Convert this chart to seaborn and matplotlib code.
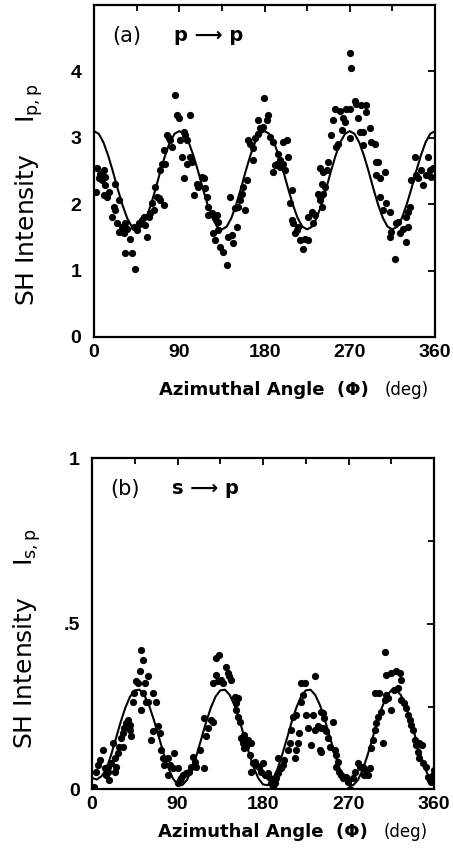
from matplotlib import pyplot as plt
import pandas as pd
import seaborn as sns

# ---- data ----
# panel (a): p -> p
angle_a = [1.6, 3.4, 6.8, 5.1, 10.3, 12.1, 8.6, 12.1, 10.3, 13.9, 15.6, 22.6, 20.8, 22.6, 19.1,
           26.1, 24.4, 26.1, 29.7, 31.4, 34.9, 33.2, 38.4, 33.2, 40.2, 43.7, 41.9, 45.5, 47.2,
           50.7, 52.4, 56.0, 54.2, 57.7, 59.5, 62.9, 61.3, 64.7, 66.5, 68.2, 70.0, 73.5, 70.0,
           71.8, 75.3, 73.5, 78.7, 77.0, 80.5, 82.3, 85.8, 87.6, 89.3, 91.0, 94.5, 96.3, 101.6,
           98.1, 92.8, 94.5, 98.1, 101.6, 103.4, 105.1, 108.6, 110.3, 113.9, 115.6, 117.4, 119.2,
           120.8, 120.8, 124.4, 127.9, 129.7, 131.4, 131.4, 126.1, 127.9, 133.2, 136.6, 140.2,
           141.9, 145.5, 147.2, 150.7, 143.7, 149.0, 152.4, 154.2, 156.0, 157.7, 159.5, 161.3,
           168.2, 164.7, 163.0, 168.2, 170.0, 173.5, 175.3, 178.7, 173.5, 182.3, 184.0, 179.8,
           185.8, 189.3, 199.8, 203.4, 194.5, 196.3, 191.0, 192.8, 189.3, 196.3, 199.8, 201.6,
           205.0, 208.6, 206.8, 208.6, 210.3, 212.1, 213.9, 215.6, 217.4, 220.8, 222.6, 226.1,
           226.1, 229.7, 231.4, 233.2, 236.6, 238.4, 240.2, 241.9, 238.4, 245.5, 247.2, 240.2,
           243.7, 241.9, 238.4, 250.7, 252.4, 254.2, 256.0, 257.7, 259.5, 261.3, 263.0, 264.7,
           266.5, 270.0, 270.0, 270.0, 271.8, 275.3, 277.0, 278.7, 280.5, 284.0, 282.3, 287.6,
           287.6, 291.0, 284.0, 292.8, 296.3, 298.1, 299.8, 298.1, 301.6, 306.8, 301.6, 305.0,
           308.6, 312.1, 312.1, 313.9, 317.4, 319.2, 320.8, 322.6, 326.1, 329.0, 331.4, 329.7,
           333.2, 331.4, 334.9, 338.4, 340.2, 341.9, 345.5, 347.2, 350.7, 352.4, 354.2, 356.0,
           357.7]
inten_a = [2.18, 2.54, 2.46, 2.39, 2.51, 2.41, 2.36, 2.29, 2.14, 2.11, 2.18, 2.31, 1.96, 1.91, 1.81,
           2.06, 1.71, 1.58, 1.66, 1.56, 1.63, 1.71, 1.48, 1.27, 1.27, 1.03, 1.66, 1.61, 1.71,
           1.76, 1.81, 1.51, 1.68, 1.81, 1.86, 1.91, 2.01, 2.26, 2.11, 2.09, 2.06, 1.98, 2.51,
           2.61, 2.61, 2.81, 2.99, 3.04, 2.96, 2.86, 3.64, 3.34, 3.29, 2.96, 3.09, 3.04, 3.34,
           2.96, 2.71, 2.40, 2.60, 2.71, 2.64, 2.14, 2.31, 2.26, 2.41, 2.39, 2.24, 2.11,
           1.96, 1.83, 1.86, 1.81, 1.83, 1.73, 1.61, 1.56, 1.46, 1.36, 1.28, 1.08,
           1.51, 1.53, 1.41, 1.66, 2.11, 1.94, 1.96, 2.06, 2.16, 2.26, 1.91, 2.36,
           2.66, 2.91, 2.96, 2.84, 2.99, 3.06, 3.14, 3.16, 3.26, 3.26, 3.34, 3.60,
           3.01, 2.94, 2.94, 2.96, 2.76, 2.66, 2.59, 2.61, 2.49, 2.56, 2.61, 2.51,
           2.71, 2.21, 2.01, 1.76, 1.71, 1.56, 1.61, 1.66, 1.46, 1.33, 1.48, 1.46,
           1.81, 1.88, 1.71, 1.83, 2.16, 2.11, 1.96, 2.49, 2.54, 2.51, 2.64, 2.31,
           2.26, 2.16, 2.06, 3.04, 3.26, 3.44, 2.86, 2.91, 3.41, 3.11, 3.29, 3.24,
           3.44, 3.44, 2.99, 4.27, 4.05, 3.56, 3.51, 3.29, 3.09, 3.09, 3.49, 3.49,
           3.39, 3.14, 2.89, 2.94, 2.91, 2.64, 2.64, 2.44, 2.39, 2.49, 2.11, 1.91,
           2.01, 1.88, 1.51, 1.58, 1.17, 1.71, 1.73, 1.56, 1.63, 1.43, 1.66, 1.81,
           1.96, 1.88, 2.36, 2.71, 2.44, 2.39, 2.51, 2.29, 2.44, 2.71, 2.51, 2.41,
           2.54]

# panel (b): s -> p
angle_b = [1.6, 2.6, 4.4, 6.1, 7.9, 11.4, 13.2, 14.9, 16.6, 18.4, 16.6, 20.2, 21.9, 23.7, 23.7,
           25.5, 27.2, 28.9, 30.7, 32.4, 32.4, 34.2, 36.0, 37.7, 39.5, 41.3, 39.5, 42.9, 44.7,
           46.5, 48.2, 50.0, 51.8, 53.5, 55.3, 58.7, 51.8, 53.5, 57.0, 58.7, 64.0, 67.6, 62.3,
           64.0, 69.3, 71.1, 72.8, 74.5, 76.3, 79.8, 81.6, 86.8, 85.1, 90.3, 79.8, 92.1, 90.3,
           93.9, 95.6, 99.2, 102.6, 104.4, 106.1, 107.9, 109.7, 113.2, 118.4, 120.2,
           121.9, 125.5, 127.2, 118.4, 130.7, 134.2, 130.7, 127.2, 132.4, 136.0, 137.6, 141.2,
           142.9, 144.7, 146.5, 150.0, 151.8, 153.5, 151.8, 153.5, 155.3, 157.1, 160.5, 158.7,
           160.5, 162.3, 164.0, 167.6, 165.8, 169.3, 171.1, 167.6, 172.8, 176.3, 178.1, 179.8,
           181.6, 185.1, 186.8, 188.6, 190.3, 192.1, 193.9, 195.6, 195.6, 199.2, 200.8, 202.6,
           206.1, 207.9, 209.7, 211.4, 214.9, 213.2, 216.6, 218.4, 214.9, 220.2, 220.2, 223.7,
           221.9, 225.5, 227.2, 230.7, 234.2, 232.4, 234.2, 237.7, 241.3, 239.5, 242.9,
           241.3, 244.7, 242.9, 246.5, 248.2, 250.0, 253.5, 255.3, 241.3, 257.0, 258.7, 257.0,
           260.5, 262.3, 264.0, 267.6, 269.3, 271.1, 274.5, 276.3, 279.8, 281.6, 285.1, 286.8,
           288.6, 290.3, 292.1, 293.9, 295.6, 297.4, 299.2, 300.8, 297.4, 302.6, 304.4, 306.1,
           307.9, 309.7, 311.4, 307.9, 309.7, 315.0, 315.0, 318.4, 320.2, 323.7, 325.5, 321.9,
           325.5, 328.9, 330.7, 332.4, 334.2, 336.0, 337.7, 339.5, 341.2, 344.7, 347.7, 343.0,
           344.7, 348.2, 351.8, 353.5, 355.3, 357.0, 358.7, 359.5]
inten_b = [0.004, 0.008, 0.054, 0.074, 0.089, 0.119, 0.064, 0.044, 0.054, 0.029, 0.069, 0.079, 0.140,
           0.094, 0.054, 0.069, 0.109, 0.129, 0.155, 0.170, 0.129, 0.185, 0.200, 0.210, 0.180,
           0.160, 0.195, 0.265, 0.291, 0.326, 0.321, 0.356, 0.421, 0.391, 0.321, 0.341, 0.240,
           0.291, 0.265, 0.265, 0.291, 0.265, 0.150, 0.175, 0.190, 0.170, 0.119, 0.094, 0.074,
           0.094, 0.074, 0.109, 0.064, 0.064, 0.044, 0.029, 0.019, 0.034, 0.044, 0.049, 0.054,
           0.069, 0.099, 0.084, 0.069, 0.119, 0.215, 0.160,
           0.185, 0.210, 0.205, 0.064, 0.396, 0.406, 0.346, 0.321, 0.326, 0.331, 0.321, 0.371,
           0.351, 0.341, 0.331, 0.280, 0.260, 0.276, 0.240, 0.220, 0.205, 0.155, 0.165, 0.140,
           0.124, 0.129, 0.150, 0.140, 0.104, 0.079, 0.084, 0.054, 0.074, 0.069, 0.054, 0.079,
           0.044, 0.049, 0.039, 0.019, 0.008, 0.019, 0.034, 0.049, 0.094, 0.064, 0.074, 0.089,
           0.119, 0.140, 0.180, 0.220, 0.225, 0.094, 0.140, 0.170, 0.119, 0.265, 0.321, 0.321,
           0.285, 0.225, 0.185, 0.134, 0.341, 0.225, 0.180, 0.190, 0.185, 0.119, 0.230,
           0.235, 0.215, 0.185, 0.175, 0.155, 0.129, 0.205, 0.119, 0.114, 0.104, 0.084, 0.069,
           0.054, 0.044, 0.034, 0.039, 0.024, 0.000, 0.034, 0.054, 0.079, 0.069, 0.069, 0.044,
           0.054, 0.044, 0.064, 0.124, 0.150, 0.180, 0.200, 0.220, 0.291, 0.291, 0.235, 0.140,
           0.270, 0.285, 0.276, 0.416, 0.346, 0.351, 0.240, 0.301, 0.356, 0.351, 0.331, 0.306,
           0.270, 0.260, 0.245, 0.225, 0.210, 0.195, 0.180, 0.150, 0.134, 0.140, 0.134, 0.114,
           0.094, 0.079, 0.069, 0.039, 0.029, 0.024, 0.044, 0.059]

# fitted curves, read every 5 deg
fit_angle = list(range(0, 365, 5))
fit_a = [3.10, 3.06, 2.93, 2.73, 2.49, 2.23, 1.99, 1.79, 1.66, 1.62, 1.66, 1.79, 1.99, 2.23, 2.49, 2.73, 2.93, 3.06,
         3.10, 3.06, 2.93, 2.73, 2.49, 2.23, 1.99, 1.79, 1.66, 1.62, 1.66, 1.79, 1.99, 2.23, 2.49, 2.73, 2.93, 3.06,
         3.10, 3.06, 2.93, 2.73, 2.49, 2.23, 1.99, 1.79, 1.66, 1.62, 1.66, 1.79, 1.99, 2.23, 2.49, 2.73, 2.93, 3.06,
         3.10, 3.06, 2.93, 2.73, 2.49, 2.23, 1.99, 1.79, 1.66, 1.62, 1.66, 1.79, 1.99, 2.23, 2.49, 2.73, 2.93, 3.06,
         3.10]
fit_b = [0.035, 0.030, 0.040, 0.060, 0.103, 0.152, 0.202, 0.246, 0.280, 0.299, 0.301, 0.285, 0.254, 0.211, 0.162, 0.112, 0.068, 0.034,
         0.015, 0.013, 0.029, 0.060, 0.103, 0.152, 0.202, 0.246, 0.280, 0.299, 0.301, 0.285, 0.254, 0.211, 0.162, 0.112, 0.068, 0.034,
         0.015, 0.013, 0.029, 0.060, 0.103, 0.152, 0.202, 0.246, 0.280, 0.299, 0.301, 0.285, 0.254, 0.211, 0.162, 0.112, 0.068, 0.034,
         0.015, 0.013, 0.029, 0.060, 0.103, 0.152, 0.202, 0.246, 0.280, 0.299, 0.301, 0.285, 0.254, 0.211, 0.162, 0.112, 0.068, 0.034,
         0.035]

df_a = pd.DataFrame({"angle": angle_a, "inten": inten_a})
df_b = pd.DataFrame({"angle": angle_b, "inten": inten_b})
df_fit = pd.DataFrame({"angle": fit_angle, "fit_a": fit_a, "fit_b": fit_b})

sns.set_style("white")
plt.rcParams["font.family"] = ["Liberation Sans", "DejaVu Sans"]
plt.rcParams["text.color"] = "black"
plt.rcParams["axes.labelcolor"] = "black"
plt.rcParams["xtick.color"] = "black"
plt.rcParams["ytick.color"] = "black"

fig = plt.figure(figsize=(4.53, 8.52), dpi=100)
ax_a = fig.add_axes([0.2075, 0.6045, 0.7528, 0.3897])
ax_b = fig.add_axes([0.2031, 0.0734, 0.755, 0.389])

panels = [
    (ax_a, df_a, "fit_a", (0, 5), [0, 1, 2, 3, 4], ["0", "1", "2", "3", "4"], [],
     "(a)", "p \u27f6 p", r"SH Intensity    $\mathregular{I_{p,p}}$", 0.43, -0.16),
    (ax_b, df_b, "fit_b", (0, 1), [0, 0.5, 1], ["0", ".5", "1"], [0.25, 0.75],
     "(b)", "s \u27f6 p", r"SH Intensity    $\mathregular{I_{s,p}}$", 0.455, -0.128),
]

for ax, df, fcol, ylim, yt, ytl, yminor, tag, proc, ylab, ylab_y, xlab_y in panels:
    sns.scatterplot(data=df, x="angle", y="inten", ax=ax, color="black", s=27,
                    linewidth=0, legend=False)
    sns.lineplot(data=df_fit, x="angle", y=fcol, ax=ax, color="black", linewidth=1.5)

    ax.set_xlim(0, 360)
    ax.set_ylim(*ylim)
    ax.set_xticks([0, 90, 180, 270, 360])
    ax.set_xticks([45, 135, 225, 315], minor=True)
    ax.set_yticks(yt)
    ax.set_yticklabels(ytl)
    ax.set_yticks(yminor, minor=True)
    ax.tick_params(which="both", direction="in", top=True, right=True,
                   labelsize=14, width=1.3, color="black", labelcolor="black")
    ax.tick_params(axis="x", pad=5)
    ax.tick_params(axis="y", pad=9)
    ax.tick_params(which="major", length=5)
    ax.tick_params(which="minor", length=4)
    for lab in ax.get_xticklabels() + ax.get_yticklabels():
        lab.set_fontweight("bold")
    for sp in ax.spines.values():
        sp.set_visible(True)
        sp.set_linewidth(1.6)
        sp.set_color("black")

    ax.set_xlabel("")
    ax.set_ylabel("")
    ax.text(-0.19, ylab_y, ylab, transform=ax.transAxes, rotation=90, color="black",
            ha="center", va="center", fontsize=18, family=["DejaVu Sans"])
    ax.text(0.805, xlab_y, "Azimuthal Angle  (\u03a6)", transform=ax.transAxes,
            ha="right", va="center", fontsize=13, fontweight="bold", color="black",
            family=["DejaVu Sans"])
    ax.text(0.853, xlab_y, "(deg)", transform=ax.transAxes, color="black",
            ha="left", va="center", fontsize=12, family=["DejaVu Sans"])

    ax.text(0.053, 0.907, tag, transform=ax.transAxes, ha="left", va="center",
            fontsize=15, color="black", family=["DejaVu Sans"])
    ax.text(0.235, 0.907, proc, transform=ax.transAxes, ha="left", va="center",
            fontsize=14, fontweight="bold", color="black", family=["DejaVu Sans"])

plt.savefig("out.png", dpi=100)
